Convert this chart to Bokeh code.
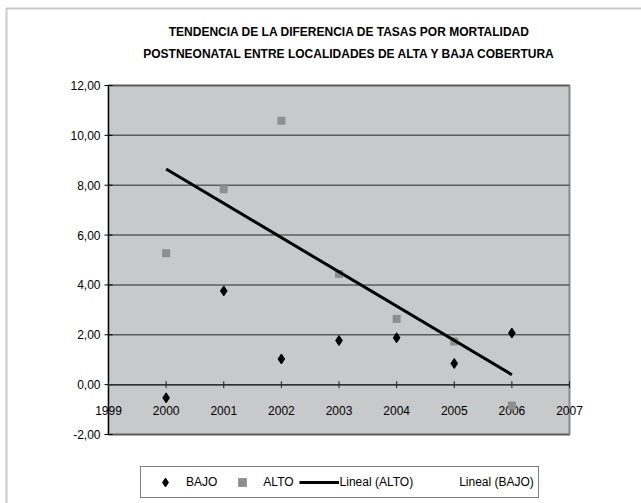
import numpy as np
from bokeh.plotting import figure
from bokeh.models import (ColumnDataSource, Label, Legend, LegendItem,
                          BoxAnnotation, Range1d)
from bokeh.core.properties import value
from bokeh.embed import file_html
from bokeh.resources import INLINE

# --- data -------------------------------------------------------------
years = [2000, 2001, 2002, 2003, 2004, 2005, 2006]
bajo = [-0.53, 3.76, 1.03, 1.77, 1.88, 0.85, 2.07]
alto = [5.27, 7.84, 10.59, 4.44, 2.64, 1.73, -0.84]

x_ticks = [1999, 2000, 2001, 2002, 2003, 2004, 2005, 2006, 2007]
x_tick_labels = [str(t) for t in x_ticks]
y_ticks = [-2, 0, 2, 4, 6, 8, 10, 12]
y_tick_labels = ["-2,00", "0,00", "2,00", "4,00", "6,00", "8,00", "10,00", "12,00"]

title_lines = [
    "TENDENCIA DE LA DIFERENCIA DE TASAS POR MORTALIDAD",
    "POSTNEONATAL ENTRE LOCALIDADES DE ALTA Y BAJA COBERTURA",
]
series_names = ["BAJO", "ALTO", "Lineal (ALTO)", "Lineal (BAJO)"]

FONT_NAME = "Liberation Sans"
FONT = value(FONT_NAME)

# --- page geometry (pixels) --------------------------------------------
W, H = 641, 503
AREA_L, AREA_R, AREA_T, AREA_B = 108, 569, 85, 434   # plot area box

x0, x1 = x_ticks[0], x_ticks[-1]
y0, y1 = y_ticks[0], y_ticks[-1]
kx = (AREA_R - AREA_L) / (x1 - x0)        # px per year
ky = (AREA_B - AREA_T) / (y1 - y0)        # px per unit
x_range = Range1d(x0 - AREA_L / kx, x1 + (W - AREA_R) / kx)
y_range = Range1d(y0 - (H - AREA_B) / ky, y1 + AREA_T / ky)


def px_x(px):
    return x_range.start + px / kx


def px_y(px):
    return y_range.end - px / ky


# linear trend lines (least squares) over the observed years
trend_x = [years[0], years[-1]]
a_slope, a_icpt = np.polyfit(years, alto, 1)
b_slope, b_icpt = np.polyfit(years, bajo, 1)
alto_trend = [a_slope * x + a_icpt for x in trend_x]
bajo_trend = [b_slope * x + b_icpt for x in trend_x]

src = ColumnDataSource(dict(year=years, bajo=bajo, alto=alto))
trend_src = ColumnDataSource(dict(x=trend_x, alto=alto_trend, bajo=bajo_trend))

# --- figure -----------------------------------------------------------
p = figure(width=W, height=H, output_backend="svg", toolbar_location=None,
           x_range=x_range, y_range=y_range,
           x_axis_location=None, y_axis_location=None, min_border=0)
p.title.visible = False
p.grid.visible = False
p.outline_line_color = None
p.background_fill_color = "white"
p.border_fill_color = "white"

# plot area
p.quad(left=x0, right=x1, bottom=y0, top=y1, fill_color="#c8c9cb",
       line_color="#888888", line_width=2)
# horizontal gridlines
p.segment(x0=x0, x1=x1, y0=y_ticks, y1=y_ticks, line_color="#5c5c5c", line_width=1.5)

# value axis on the left
p.segment(x0=x0, x1=x0, y0=y0, y1=y1, line_color="black", line_width=1.2)
p.scatter(x=[x0] * len(y_ticks), y=y_ticks, marker="dash", size=8,
          line_color="black", line_width=1)
p.text(x=[x0] * len(y_ticks), y=y_ticks, text=y_tick_labels, x_offset=-8,
       text_align="right", text_baseline="middle", text_font=FONT,
       text_font_size="12px", text_color="black")

# category axis crossing at zero
p.segment(x0=x0, x1=x1, y0=0, y1=0, line_color="#333333", line_width=1.5)
p.scatter(x=x_ticks, y=[0] * len(x_ticks), marker="dash", angle=np.pi / 2,
          size=7, line_color="#222222", line_width=1)
p.text(x=x_ticks, y=[0] * len(x_ticks), text=x_tick_labels, y_offset=26,
       text_align="center", text_baseline="middle", text_font=FONT,
       text_font_size="12px", text_color="black")

# series
r_alto = p.scatter(x="year", y="alto", source=src, marker="square", size=8,
                   fill_color="#8e8e8e", line_color=None)
r_bajo = p.scatter(x="year", y="bajo", source=src, marker="diamond", size=10,
                   fill_color="black", line_color="black")
r_alto_tr = p.line(x="x", y="alto", source=trend_src, line_color="black", line_width=3)
r_bajo_tr = p.line(x="x", y="bajo", source=trend_src, line_color="black", line_alpha=0)

# title
for i, line in enumerate(title_lines):
    p.add_layout(Label(x=px_x(349), y=px_y(31 + 22 * i), text=line,
                       text_align="center", text_baseline="middle",
                       text_font=FONT_NAME, text_font_style="bold",
                       text_font_size="12px", text_color="black"))

# legend
legend = Legend(items=[
    LegendItem(label=series_names[0], renderers=[r_bajo]),
    LegendItem(label=series_names[1], renderers=[r_alto]),
    LegendItem(label=series_names[2], renderers=[r_alto_tr]),
    LegendItem(label=series_names[3], renderers=[r_bajo_tr]),
], orientation="horizontal", location=(140, 5), glyph_width=40, glyph_height=22,
    label_standoff=1, spacing=5, padding=4, margin=0,
    border_line_color="black", border_line_width=1, background_fill_color="white",
    label_text_font=FONT_NAME, label_text_font_size="12px",
    label_text_color="black")
p.add_layout(legend)

# chart frame around the whole drawing
p.add_layout(BoxAnnotation(left=px_x(6), right=px_x(W + 20), top=px_y(8),
                           bottom=px_y(H + 20), fill_alpha=0,
                           line_color="#4d4d4d", line_width=2))

open("out.html", "w").write(file_html(p, INLINE))
